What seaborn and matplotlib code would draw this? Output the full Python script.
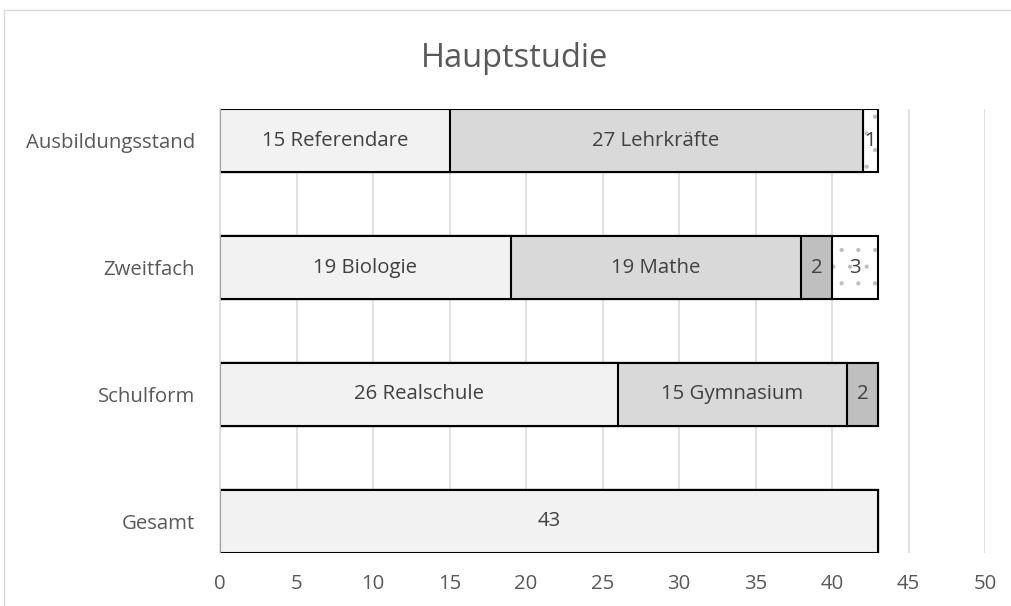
import numpy as np
import pandas as pd
import matplotlib
matplotlib.use("Agg")
import matplotlib.pyplot as plt
import seaborn as sns

# Daten (von oben nach unten)
kategorien = ['Ausbildungsstand', 'Zweitfach', 'Schulform', 'Gesamt']
serie1 = [15, 19, 26, 43]   # hellgrau
serie2 = [27, 19, 15, 0]    # grau
serie3 = [0, 2, 2, 0]       # dunkelgrau
serie4 = [1, 3, 0, 0]       # weiss gepunktet

beschriftung1 = ['15 Referendare', '19 Biologie', '26 Realschule', '43']
beschriftung2 = ['27 Lehrkräfte', '19 Mathe', '15 Gymnasium', '']
beschriftung3 = ['', '2', '2', '']
beschriftung4 = ['1', '3', '', '']

farben = ['#F2F2F2', '#D9D9D9', '#BFBFBF', '#FFFFFF']
textfarbe = '#404040'

sns.set_style('white')
plt.rcParams['font.family'] = ['Open Sans', 'DejaVu Sans']
plt.rcParams['hatch.linewidth'] = 0.6

df = pd.DataFrame({'kat': kategorien, 's1': serie1, 's2': serie2, 's3': serie3, 's4': serie4})
df['c1'] = df['s1']
df['c2'] = df['c1'] + df['s2']
df['c3'] = df['c2'] + df['s3']
df['c4'] = df['c3'] + df['s4']

fig = plt.figure(figsize=(10.11, 6.06), dpi=100)
ax = fig.add_axes([220 / 1011, (606 - 553) / 606, (985 - 220) / 1011, (553 - 109) / 606])

# gestapelt: zuerst die Summen, dann kuerzere Summen darueber
sns.barplot(data=df, x='c4', y='kat', order=kategorien, color=farben[3], width=0.5,
            edgecolor='#BFBFBF', linewidth=0, hatch='.', saturation=1, ax=ax)
sns.barplot(data=df, x='c4', y='kat', order=kategorien, color='black', fill=False,
            width=0.5, linewidth=1.5, ax=ax)
sns.barplot(data=df, x='c3', y='kat', order=kategorien, color=farben[2], width=0.5,
            edgecolor='black', linewidth=1.5, saturation=1, ax=ax)
sns.barplot(data=df, x='c2', y='kat', order=kategorien, color=farben[1], width=0.5,
            edgecolor='black', linewidth=1.5, saturation=1, ax=ax)
sns.barplot(data=df, x='c1', y='kat', order=kategorien, color=farben[0], width=0.5,
            edgecolor='black', linewidth=1.5, saturation=1, ax=ax)

# Beschriftungen in der Mitte der Segmente
links = [np.zeros(4), df['c1'].values, df['c2'].values, df['c3'].values]
werte = [serie1, serie2, serie3, serie4]
texte = [beschriftung1, beschriftung2, beschriftung3, beschriftung4]
for l, w, t in zip(links, werte, texte):
    for i in range(4):
        if t[i]:
            ax.text(l[i] + w[i] / 2, i, t[i], ha='center', va='center',
                    fontsize=14.7, color=textfarbe)

ax.set_xlim(0, 50)
ax.set_ylim(3.25, -0.25)
ax.set_xticks(range(0, 51, 5))
ax.xaxis.grid(True, color='#D9D9D9', linewidth=1.1)
ax.set_axisbelow(True)
ax.set_xlabel('')
ax.set_ylabel('')
for s in ['top', 'right', 'bottom']:
    ax.spines[s].set_visible(False)
ax.spines['left'].set_color('#D9D9D9')
ax.spines['left'].set_linewidth(1.1)
ax.tick_params(axis='both', length=0, labelsize=14.7, colors='#595959')
ax.tick_params(axis='x', pad=15)
ax.tick_params(axis='y', pad=18)

fig.text(515 / 1011, 1 - 67 / 606, 'Hauptstudie', ha='center', va='baseline',
         fontsize=23.5, color='#595959')

# Rahmen des Diagrammbereichs
fig.add_artist(plt.Rectangle((4 / 1011, -0.1), 1.2, 1 - 10 / 606 + 0.1,
                             transform=fig.transFigure, fill=False,
                             edgecolor='#D9D9D9', linewidth=1))

fig.savefig('out.png', dpi=100)
